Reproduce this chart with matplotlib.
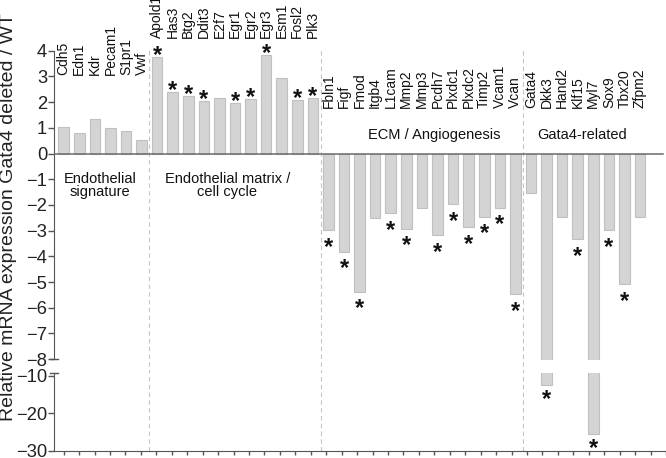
import matplotlib
matplotlib.use('Agg')
import matplotlib.pyplot as plt
import numpy as np

plt.rcParams['font.family'] = ['Liberation Sans', 'DejaVu Sans']

# ---- data ----
genes_endo = ['Cdh5', 'Edn1', 'Kdr', 'Pecam1', 'S1pr1', 'Vwf']
vals_endo = [1.04, 0.79, 1.33, 1.00, 0.88, 0.53]
sig_endo = [False, False, False, False, False, False]

genes_matrix = ['Apold1', 'Has3', 'Btg2', 'Ddit3', 'E2f7', 'Egr1', 'Egr2', 'Egr3', 'Esm1', 'Fosl2', 'Plk3']
vals_matrix = [3.77, 2.41, 2.24, 2.06, 2.15, 1.98, 2.12, 3.83, 2.93, 2.08, 2.17]
sig_matrix = [True, True, True, True, False, True, True, True, False, True, True]

genes_ecm = ['Fbln1', 'Figf', 'Fmod', 'Itgb4', 'L1cam', 'Mmp2', 'Mmp3', 'Pcdh7', 'Plxdc1', 'Plxdc2', 'Timp2', 'Vcam1', 'Vcan']
vals_ecm = [-2.98, -3.82, -5.38, -2.52, -2.33, -2.93, -2.11, -3.18, -1.98, -2.87, -2.46, -2.11, -5.48]
sig_ecm = [True, True, True, False, True, True, False, True, True, True, True, True, True]

genes_gata = ['Gata4', 'Dkk3', 'Hand2', 'Klf15', 'Myl7', 'Sox9', 'Tbx20', 'Zfpm2']
vals_gata = [-1.52, -12.5, -2.46, -3.34, -25.6, -2.98, -5.09, -2.46]
sig_gata = [False, True, False, True, True, True, True, False]

group_names = ['Endothelial\nsignature', 'Endothelial matrix /\ncell cycle', 'ECM / Angiogenesis', 'Gata4-related']

upper_ticks = [4, 3, 2, 1, 0, -1, -2, -3, -4, -5, -6, -7, -8]
lower_ticks = [-10, -20, -30]

# ---- assemble ----
groups = [genes_endo, genes_matrix, genes_ecm, genes_gata]
genes = genes_endo + genes_matrix + genes_ecm + genes_gata
vals = np.array(vals_endo + vals_matrix + vals_ecm + vals_gata)
sig = sig_endo + sig_matrix + sig_ecm + sig_gata
x = np.arange(len(genes))

bar_face = '#d4d4d4'
bar_edge = '#c0c0c0'
spine_c = '#555555'

fig = plt.figure(figsize=(6.66, 4.58), dpi=100)
ax1 = fig.add_axes([0.0811, 0.2131, 0.9189, 0.6762])
ax2 = fig.add_axes([0.0811, 0.01594, 0.9189, 0.1706])

xlim = (-0.62, 38.67)
for ax in (ax1, ax2):
    ax.bar(x, vals, width=0.68, color=bar_face, edgecolor=bar_edge, linewidth=0.8, zorder=2)
    ax.set_xlim(*xlim)
    ax.spines['top'].set_visible(False)
    ax.spines['right'].set_visible(False)
    ax.spines['left'].set_color(spine_c)
    ax.spines['bottom'].set_color(spine_c)
    ax.tick_params(axis='y', direction='out', length=4, width=1, color=spine_c,
                   labelsize=13.2, pad=1, labelcolor='#222222')

ax1.set_ylim(-8.05, 4)
ax1.set_yticks(upper_ticks)
ax1.spines['bottom'].set_visible(False)
ax1.spines['left'].set_bounds(-8, 4)
ax1.set_xticks([])
ax1.axhline(0, xmin=0, xmax=0.995, color='#6a6a6a', lw=1.1, zorder=3)

ax2.set_ylim(-30, -9.1)
ax2.set_yticks(lower_ticks)
ax2.set_xticks(np.linspace(xlim[0] + 0.62, xlim[1], 40))
ax2.tick_params(axis='x', direction='out', length=3, width=1, color=spine_c, labelbottom=False)

# break marks
ax1.plot([-0.007, 0.007], [-8, -8], transform=ax1.get_yaxis_transform(), color=spine_c, lw=1, clip_on=False)
ax2.plot([-0.007, 0.007], [-9.1, -9.1], transform=ax2.get_yaxis_transform(), color=spine_c, lw=1, clip_on=False)

# separators
bounds = np.cumsum([len(g) for g in groups])[:-1] - 0.5
for xs in bounds:
    ax1.axvline(xs, ymin=-0.045, ymax=1.01, ls=(0, (4, 3)), color='#c4c4c4', lw=0.8, clip_on=False, zorder=1)
    ax2.axvline(xs, ymin=0, ymax=1, ls=(0, (4, 3)), color='#c4c4c4', lw=0.8, clip_on=False, zorder=1)

# gene labels
label_base = [3.05, 4.49, 1.77, 1.77]
start = 0
for g, base in zip(groups, label_base):
    for k, name in enumerate(g):
        ax1.text(start + k, base, name, rotation=90, ha='center', va='bottom',
                 fontsize=10, color='#111111', clip_on=False)
    start += len(g)

# group labels
ax1.text(2.35, -1.25, group_names[0], ha='center', va='center', fontsize=10.5, linespacing=0.95, color='#111111')
ax1.text(10.5, -1.25, group_names[1], ha='center', va='center', fontsize=10.5, linespacing=0.95, color='#111111')
ax1.text(23.8, 0.72, group_names[2], ha='center', va='center', fontsize=10.5, color='#111111')
ax1.text(33.3, 0.72, group_names[3], ha='center', va='center', fontsize=10.5, color='#111111')

# asterisks
fs = 17
c = 0.53 * fs
for i, (v, s) in enumerate(zip(vals, sig)):
    if not s:
        continue
    ax = ax2 if v < -8.05 else ax1
    if v > 0:
        off = 5.2 - c
    elif ax is ax2:
        off = -5.8 - c
    else:
        off = -8.0 - c
    ax.annotate('*', xy=(i, v), xytext=(0, off), textcoords='offset points',
                ha='center', va='baseline', fontsize=fs, fontweight='bold',
                color='#111111', annotation_clip=False)

fig.text(0.0135, 0.526, 'Relative mRNA expression Gata4 deleted / WT', rotation=90,
         ha='center', va='center', fontsize=14, color='#222222')

fig.savefig('out.png', dpi=100)
